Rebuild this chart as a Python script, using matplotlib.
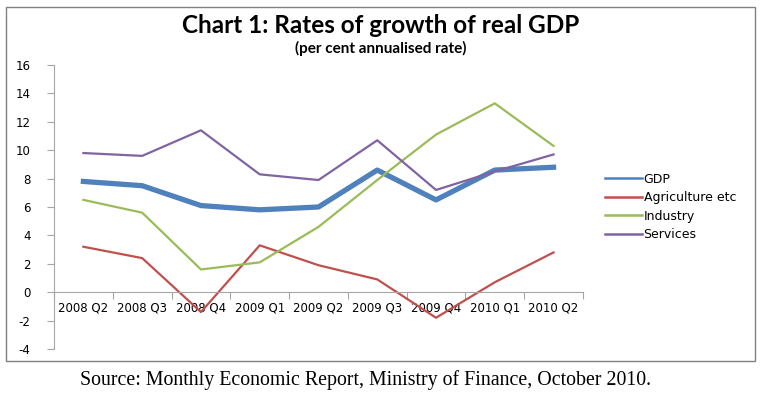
import matplotlib.pyplot as plt
from matplotlib.patches import Rectangle

plt.rcParams['axes.unicode_minus'] = False

quarters = ["2008 Q2", "2008 Q3", "2008 Q4", "2009 Q1", "2009 Q2",
            "2009 Q3", "2009 Q4", "2010 Q1", "2010 Q2"]
gdp = [7.8, 7.5, 6.1, 5.8, 6.0, 8.6, 6.5, 8.6, 8.8]
agriculture = [3.2, 2.4, -1.4, 3.3, 1.9, 0.9, -1.8, 0.7, 2.8]
industry = [6.5, 5.6, 1.6, 2.1, 4.6, 7.9, 11.1, 13.3, 10.3]
services = [9.8, 9.6, 11.4, 8.3, 7.9, 10.7, 7.2, 8.5, 9.7]

fig = plt.figure(figsize=(7.61, 3.93), dpi=100)
ax = fig.add_axes([0.071, 0.112, 0.695, 0.7226])

x = list(range(len(quarters)))
ax.plot(x, gdp, color='#4F81BD', lw=3.8, label='GDP', solid_joinstyle='round')
ax.plot(x, agriculture, color='#C0504D', lw=1.6, label='Agriculture etc')
ax.plot(x, industry, color='#9BBB59', lw=1.6, label='Industry')
ax.plot(x, services, color='#8064A2', lw=1.6, label='Services')

ax.set_xlim(-0.5, len(quarters) - 0.5)
ax.set_ylim(-4, 16)
ax.set_yticks(range(-4, 17, 2))

# axes look: left spine plus a horizontal axis at zero
for s in ['top', 'right']:
    ax.spines[s].set_visible(False)
ax.spines['bottom'].set_position(('data', 0))
ax.spines['left'].set_color('#A6A6A6')
ax.spines['bottom'].set_color('#A6A6A6')
ax.tick_params(axis='y', colors='#A6A6A6', labelcolor='black', labelsize=8.5,
               direction='out', length=5, pad=12)
ax.set_xticks([i + 0.5 for i in range(-1, len(quarters))], minor=False)
ax.set_xticklabels([])
ax.tick_params(axis='x', which='major', colors='#A6A6A6', direction='out', length=5)
ax.set_xticks(x, minor=True)
ax.set_xticklabels(quarters, minor=True)
ax.tick_params(axis='x', which='minor', length=0, labelsize=8.5, labelcolor='black', pad=7)

leg = ax.legend(loc='center left', bbox_to_anchor=(1.02, 0.5), frameon=False,
                fontsize=9, handlelength=3.0, handletextpad=0.1, labelspacing=0.45)
for h in leg.legend_handles:
    h.set_linewidth(1.8)

fig.text(0.5, 0.935, 'Chart 1: Rates of growth of real GDP', ha='center', va='center',
         fontsize=17.5, fontweight='bold', family='Lato')
fig.text(0.5, 0.877, '(per cent annualised rate)', ha='center', va='center',
         fontsize=11, fontweight='bold', family='Lato')
fig.text(0.48, 0.033, 'Source: Monthly Economic Report, Ministry of Finance, October 2010.',
         ha='center', va='center', fontsize=14.3, family='Liberation Serif')

fig.patches.append(Rectangle((6 / 761, 1 - 361 / 393), 749 / 761, 354 / 393,
                             transform=fig.transFigure, fill=False,
                             edgecolor='#808080', lw=1))

fig.savefig('out.png', dpi=100)
